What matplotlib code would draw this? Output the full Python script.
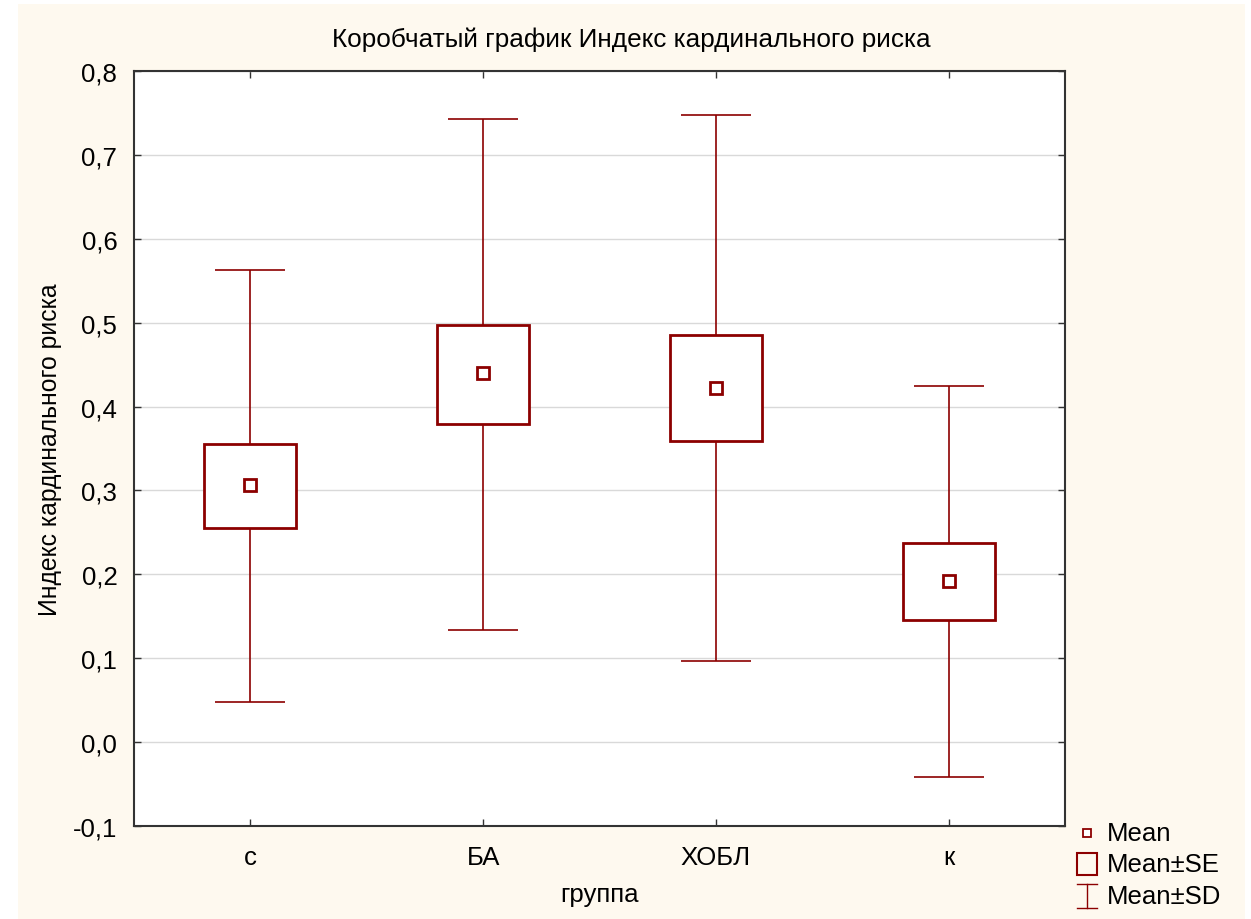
import matplotlib.pyplot as plt
from matplotlib.patches import Rectangle
from matplotlib.lines import Line2D
from matplotlib.ticker import FuncFormatter, MultipleLocator

plt.rcParams['font.family'] = ['Liberation Sans', 'DejaVu Sans']

groups = ['с', 'БА', 'ХОБЛ', 'к']
means = [0.306, 0.440, 0.422, 0.192]
se_low = [0.255, 0.379, 0.359, 0.146]
se_high = [0.355, 0.497, 0.485, 0.237]
sd_low = [0.048, 0.134, 0.097, -0.041]
sd_high = [0.563, 0.743, 0.748, 0.425]

red = '#8c0000'
cream = '#fef9ef'

fig = plt.figure(figsize=(12.51, 9.2), dpi=100)
fig.patch.set_facecolor('white')
fig.add_artist(Rectangle((18 / 1251, 0), 1227 / 1251, 915 / 920,
                         transform=fig.transFigure, facecolor=cream,
                         edgecolor='none', zorder=-10))

ax = fig.add_axes([134 / 1251, 1 - 827 / 920, 931 / 1251, 755 / 920])
ax.set_facecolor('white')

xs = list(range(1, len(groups) + 1))
box_w = 0.395
cap_w = 0.30
for x, m, lo, hi, dlo, dhi in zip(xs, means, se_low, se_high, sd_low, sd_high):
    ax.vlines(x, hi, dhi, color=red, lw=1.2, zorder=2)
    ax.vlines(x, dlo, lo, color=red, lw=1.2, zorder=2)
    ax.hlines([dlo, dhi], x - cap_w / 2, x + cap_w / 2, color=red, lw=1.2, zorder=2)
    ax.add_patch(Rectangle((x - box_w / 2, lo), box_w, hi - lo, facecolor='white',
                           edgecolor=red, lw=2, zorder=3))
ax.plot(xs, means, 's', ms=8, mfc='white', mec=red, mew=2, ls='none', zorder=4)

ax.set_xlim(0.5, 4.5)
ax.set_ylim(-0.1, 0.8)
ax.yaxis.set_major_locator(MultipleLocator(0.1))
ax.yaxis.set_major_formatter(FuncFormatter(lambda v, p: f'{v:.1f}'.replace('.', ',')))
ax.set_xticks(xs)
ax.set_xticklabels(groups)
ax.grid(axis='y', color='#d9d9d9', lw=1, zorder=0)
ax.set_axisbelow(True)
ax.tick_params(direction='in', length=5, width=1, color='#333333',
               top=True, right=True, labelsize=18.5, pad=8)
ax.tick_params(axis='x', pad=14)
ax.tick_params(axis='y', pad=12)
for s in ax.spines.values():
    s.set_color('#333333')
    s.set_linewidth(1.5)

ax.set_xlabel('группа', fontsize=18.5, labelpad=9)
ax.set_ylabel('Индекс кардинального риска', fontsize=17.8, labelpad=8)

# legend drawn by hand in pixel positions
def fx(px):
    return px / 1251

def fy(py):
    return 1 - py / 920

fig.text(fx(631), fy(40), 'Коробчатый график Индекс кардинального риска',
         fontsize=18.8, ha='center', va='center')

fig.add_artist(Line2D([fx(1087)], [fy(834)], marker='s', ms=6, mfc='white',
                      mec=red, mew=1.3, transform=fig.transFigure))
fig.add_artist(Rectangle((fx(1077), fy(876)), 20 / 1251, 22 / 920, transform=fig.transFigure,
                         facecolor='none', edgecolor=red, lw=1.5))
fig.add_artist(Line2D([fx(1087), fx(1087)], [fy(885), fy(909)], color=red, lw=1,
                      transform=fig.transFigure))
fig.add_artist(Line2D([fx(1077), fx(1097)], [fy(885), fy(885)], color=red, lw=1,
                      transform=fig.transFigure))
fig.add_artist(Line2D([fx(1077), fx(1097)], [fy(909), fy(909)], color=red, lw=1,
                      transform=fig.transFigure))
for label, py in [('Mean', 834), ('Mean±SE', 865), ('Mean±SD', 897)]:
    fig.text(fx(1107), fy(py), label, fontsize=18.5, va='center', ha='left')

fig.savefig('out.png', dpi=100)
